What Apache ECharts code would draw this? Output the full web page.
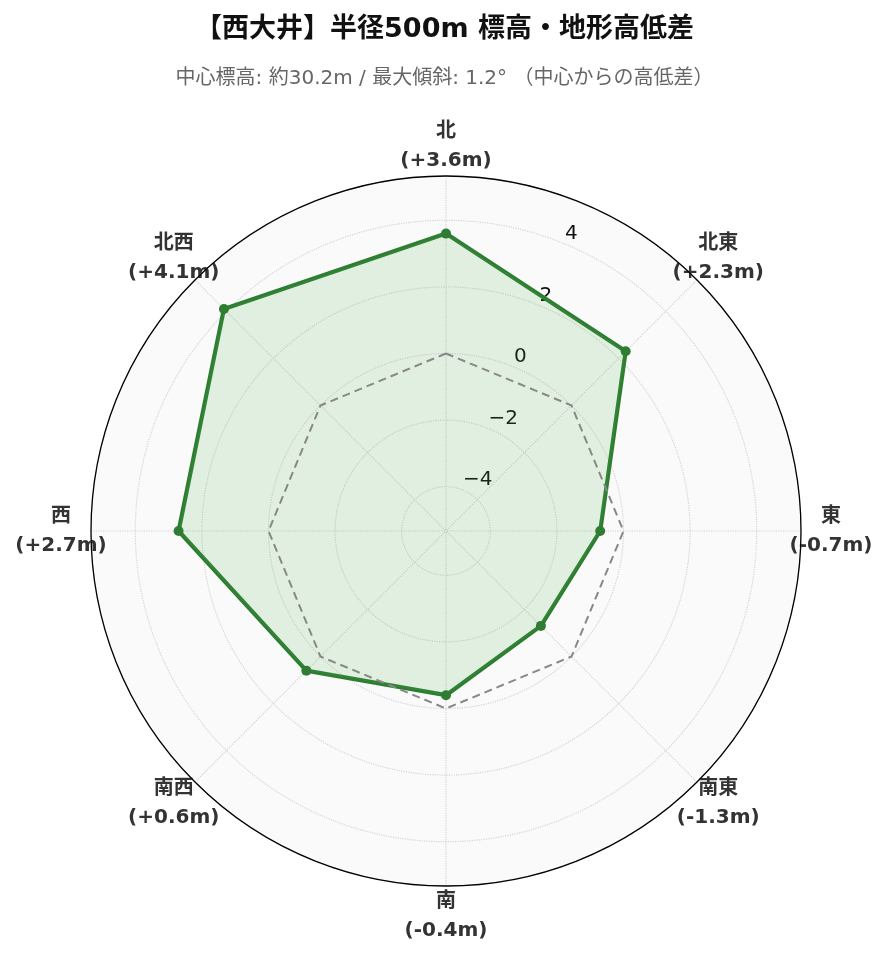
<!DOCTYPE html>
<html><head><meta charset="utf-8">
<script src="https://cdn.jsdelivr.net/npm/echarts@6/dist/echarts.min.js"></script>
<style>html,body{margin:0;padding:0;background:#fff}#c{width:889px;height:962px}</style>
</head><body><div id="c"></div>
<script>
// ---- data ----
const directions = ['北', '北東', '東', '南東', '南', '南西', '西', '北西'];
const elevationDiff = [3.6, 2.3, -0.7, -1.3, -0.4, 0.6, 2.7, 4.1];
const zeroLine = [0, 0, 0, 0, 0, 0, 0, 0];
const radialTicks = [-4, -2, 0, 2, 4];
const axisLimit = 5.33;
const titleText = '【西大井】半径500m 標高・地形高低差';
const subtitleText = '中心標高: 約30.2m / 最大傾斜: 1.2° （中心からの高低差）';

// ---- build ----
const FONT = "'DejaVu Sans', 'Noto Sans CJK JP', sans-serif";
const CX = 446, CY = 531, R = 355;
// radar places indicators counter-clockwise; reorder from clockwise data
const order = [0, 7, 6, 5, 4, 3, 2, 1];
const fmtDiff = v => (v >= 0 ? '+' : '') + v.toFixed(1);
const indicators = order.map(i => ({
  name: directions[i] + '\n(' + fmtDiff(elevationDiff[i]) + 'm)',
  min: -axisLimit, max: axisLimit
}));
const dataVals = order.map(i => elevationDiff[i]);
const zeroVals = order.map(i => zeroLine[i]);
const tickFmt = v => {
  const t = radialTicks.find(x => Math.abs(x - v) < 1e-6);
  if (t === undefined) return '';
  return t < 0 ? '\u2212' + (-t) : String(t);
};
const GRID = {color: '#d4d4d4', type: 'dotted', width: 1.2};

const chart = echarts.init(document.getElementById('c'), null, {renderer: 'canvas'});
chart.setOption({
  backgroundColor: '#ffffff',
  animation: false,
  textStyle: {fontFamily: FONT},
  title: [
    {text: titleText, left: 'center', top: 9,
     textStyle: {fontFamily: FONT, fontSize: 27, fontWeight: 'bold', color: '#111', lineHeight: 32}},
    {text: subtitleText, left: 'center', top: 60,
     textStyle: {fontFamily: FONT, fontSize: 20, fontWeight: 'normal', color: '#666', lineHeight: 28}}
  ],
  polar: [
    {center: [CX, CY], radius: R},   // tick labels (rotated 22.5° clockwise from north)
    {center: [CX, CY], radius: R}    // grid circles, spokes, outer circle
  ],
  angleAxis: [
    {polarIndex: 0, type: 'value', min: 0, max: 360, startAngle: 67.5, show: false},
    {polarIndex: 1, type: 'value', min: 0, max: 360, interval: 45, startAngle: 90, z: 1,
     axisLine: {show: true, lineStyle: {color: '#000', width: 1.3}},
     axisTick: {show: false}, axisLabel: {show: false},
     splitLine: {show: true, lineStyle: GRID}}
  ],
  radiusAxis: [
    {polarIndex: 0, type: 'value', min: -axisLimit, max: axisLimit, minInterval: 2, maxInterval: 2, z: 1,
     axisLine: {show: false}, axisTick: {show: false}, splitLine: {show: false},
     axisLabel: {margin: 0, align: 'left', verticalAlign: 'bottom',
                 fontFamily: FONT, fontSize: 20, color: '#111', formatter: tickFmt}},
    {polarIndex: 1, type: 'value', min: -axisLimit, max: axisLimit, minInterval: 2, maxInterval: 2, z: 1,
     axisLine: {show: false}, axisTick: {show: false}, axisLabel: {show: false},
     splitLine: {show: true, lineStyle: GRID}}
  ],
  radar: {
    center: [CX, CY], radius: R, startAngle: 90, shape: 'circle', splitNumber: 1, z: 0,
    indicator: indicators,
    nameGap: 30,
    axisName: {color: '#333', fontFamily: FONT, fontSize: 20, fontWeight: 'bold',
               lineHeight: 29, align: 'center', verticalAlign: 'middle'},
    axisLine: {show: false},
    splitLine: {show: false},
    splitArea: {show: true, areaStyle: {color: ['#fafafa']}},
    axisTick: {show: false}, axisLabel: {show: false}
  },
  series: [{
    type: 'radar', z: 3,
    data: [
      {value: dataVals, name: '高低差', symbol: 'circle', symbolSize: 10,
       itemStyle: {color: '#2e7d32'},
       lineStyle: {color: '#2e7d32', width: 4.2},
       areaStyle: {color: 'rgba(76,175,80,0.2)'}},
      {value: zeroVals, name: '0m', symbol: 'none',
       lineStyle: {color: '#888', width: 2, type: [8, 5]}}
    ]
  }]
});
</script></body></html>
